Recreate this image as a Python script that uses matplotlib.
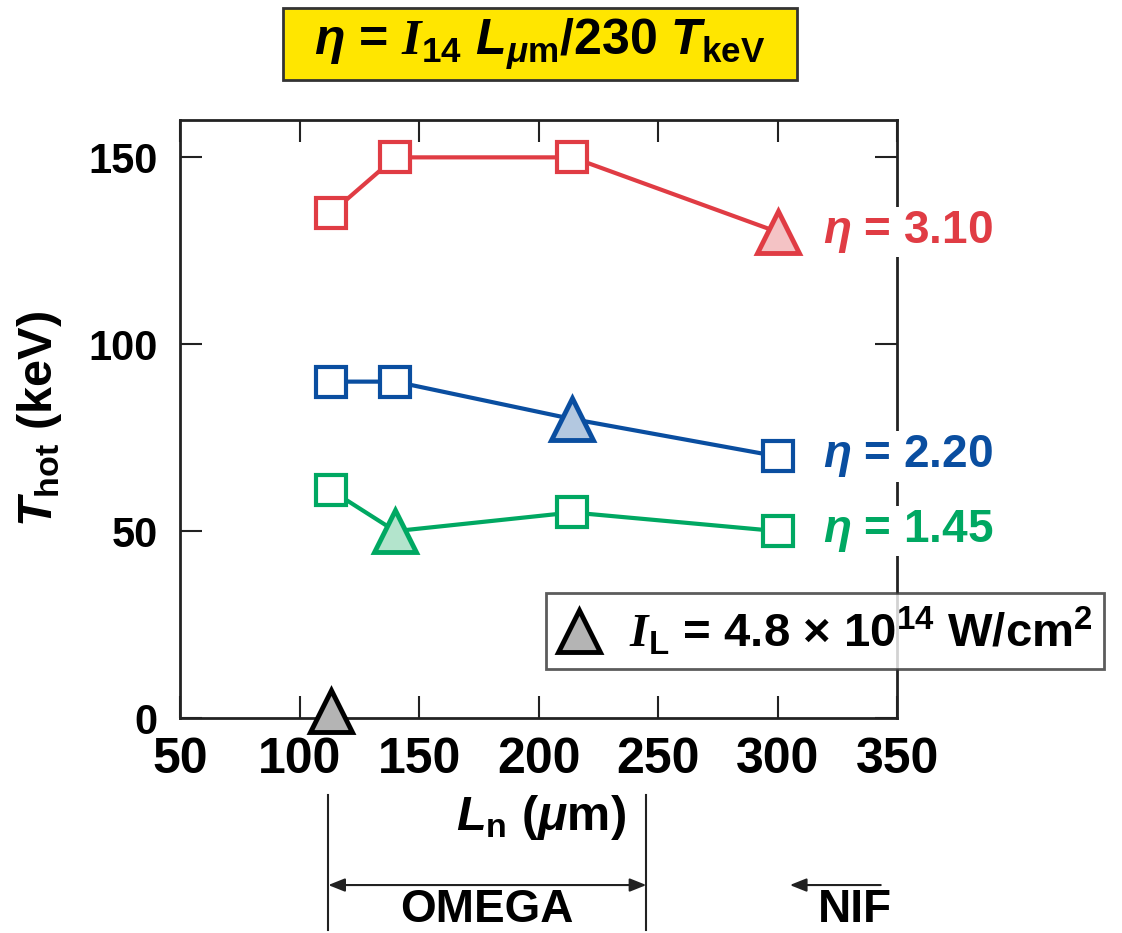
import matplotlib
matplotlib.use("Agg")
import matplotlib.pyplot as plt
import matplotlib.transforms as mtransforms
from matplotlib.lines import Line2D
from matplotlib.patches import Rectangle

plt.rcParams['font.family'] = ['Liberation Sans', 'DejaVu Sans']
plt.rcParams['font.weight'] = 'bold'
plt.rcParams['axes.labelweight'] = 'bold'
plt.rcParams['mathtext.fontset'] = 'custom'
plt.rcParams['mathtext.rm'] = 'Liberation Sans:bold'
plt.rcParams['mathtext.bf'] = 'Liberation Sans:bold'
plt.rcParams['mathtext.it'] = 'Liberation Sans:bold:italic'
plt.rcParams['mathtext.sf'] = 'Liberation Sans:bold'
plt.rcParams['mathtext.cal'] = 'Liberation Serif:italic'

# data
ln_red = [113, 140, 214, 300]
thot_red = [135, 150, 150, 130]
ln_blue = [113, 140, 214, 300]
thot_blue = [90, 90, 80, 70]
ln_green = [113, 140, 214, 300]
thot_green = [61, 50, 55, 50]
# which point of each series is at I_L = 4.8e14 (triangle)
tri_red, tri_blue, tri_green = 3, 2, 1
ln_gray = [113]
thot_gray = [2]
eta_labels = ['$\\eta$ = 3.10', '$\\eta$ = 2.20', '$\\eta$ = 1.45']
eta_y = [130, 70, 50]

red, red_fill = '#E03C44', '#F4C3C5'
blue, blue_fill = '#0A4EA0', '#B3C8E0'
green, green_fill = '#00A862', '#B3E4CC'
gray_fill = '#B4B4B4'

fig = plt.figure(figsize=(11.22, 9.33), dpi=100)
ax = fig.add_axes([0.1604, 0.2304, 0.6395, 0.641])

series = [(ln_red, thot_red, tri_red, red, red_fill),
          (ln_blue, thot_blue, tri_blue, blue, blue_fill),
          (ln_green, thot_green, tri_green, green, green_fill)]
for xs, ys, ti, c, fc in series:
    ax.plot(xs, ys, color=c, lw=3, zorder=2)
    sx = [x for i, x in enumerate(xs) if i != ti]
    sy = [y for i, y in enumerate(ys) if i != ti]
    ax.plot(sx, sy, ls='none', marker='s', ms=22, mfc='white', mec=c, mew=3, zorder=3)
    ax.plot([xs[ti]], [ys[ti]], ls='none', marker='^', ms=30, mfc=fc, mec=c, mew=3.5,
            zorder=3, clip_on=False)

ax.plot(ln_gray, thot_gray, ls='none', marker='^', ms=30, mfc=gray_fill, mec='black',
        mew=3.5, zorder=4, clip_on=False)

for lab, y, c in zip(eta_labels, eta_y, [red, blue, green]):
    ax.text(319, y, lab, color=c, fontsize=33, ha='left', va='center', clip_on=False,
            zorder=5, bbox=dict(boxstyle='square,pad=0.05', fc='white', ec='none'))

ax.set_xlim(50, 350)
ax.set_ylim(0, 160)
ax.set_xticks([50, 100, 150, 200, 250, 300, 350])
ax.set_yticks([0, 50, 100, 150])
ax.tick_params(direction='in', length=16, width=1.5, top=True, right=True,
               color='#222222')
ax.tick_params(axis='x', pad=14, labelsize=36)
ax.tick_params(axis='y', pad=16, labelsize=30)
for sp in ax.spines.values():
    sp.set_linewidth(2)
    sp.set_color('#222222')

ax.set_ylabel('$T_{\\mathrm{hot}}$ (keV)', fontsize=35)
ax.yaxis.set_label_coords(-0.162, 0.5)
ax.set_xlabel('$L_{\\mathrm{n}}$ ($\\mu$m)', fontsize=35)
ax.xaxis.set_label_coords(0.503, -0.125)

# title box
fig.patches.append(Rectangle((0.2522, 0.9143), 0.4581, 0.0771, transform=fig.transFigure,
                             fc='#FFE600', ec='#333333', lw=2))
fig.text(0.4815, 0.952,
         '$\\eta$ = $\\mathcal{I}_{14}$ $L_{\\mu\\mathrm{m}}$/230 $T_{\\mathrm{keV}}$',
         fontsize=36, ha='center', va='center')

# legend box
handle = Line2D([], [], ls='none', marker='^', ms=30, mfc=gray_fill, mec='black', mew=3.5)
leg = fig.legend([handle], ['$\\mathcal{I}_{\\mathrm{L}}$ = 4.8 \u00d7 10$^{14}$ W/cm$^{2}$'],
                 loc='center left', bbox_to_anchor=(0.4866, 0.3236), fontsize=34,
                 frameon=True, fancybox=False, handlelength=0.9, handletextpad=0.6,
                 borderpad=0.25, borderaxespad=0)
leg.get_frame().set_edgecolor('#333333')
leg.get_frame().set_linewidth(2)
leg.set_zorder(10)

# OMEGA / NIF range markers below the x axis
trans = mtransforms.blended_transform_factory(ax.transData, fig.transFigure)
omega_range = [112, 245]
nif_arrow = [343, 305]
for x in omega_range:
    ax.plot([x, x], [0.003, 0.148], color='#222222', lw=1.5, transform=trans, clip_on=False)
ax.annotate('', xy=(omega_range[0], 0.0514), xytext=(omega_range[1], 0.0514),
            xycoords=trans, textcoords=trans,
            arrowprops=dict(arrowstyle='<|-|>,head_length=1.0,head_width=0.4',
                            color='#222222', lw=1.5, shrinkA=0, shrinkB=0))
ax.annotate('', xy=(nif_arrow[1], 0.0514), xytext=(nif_arrow[0], 0.0514),
            xycoords=trans, textcoords=trans,
            arrowprops=dict(arrowstyle='-|>,head_length=1.0,head_width=0.4',
                            color='#222222', lw=1.5, shrinkA=0, shrinkB=0))
ax.text(sum(omega_range) / 2, 0.012, 'OMEGA', transform=trans, fontsize=33,
        ha='center', va='baseline')
ax.text(332, 0.012, 'NIF', transform=trans, fontsize=33, ha='center', va='baseline')

fig.savefig('out.png', dpi=100)
